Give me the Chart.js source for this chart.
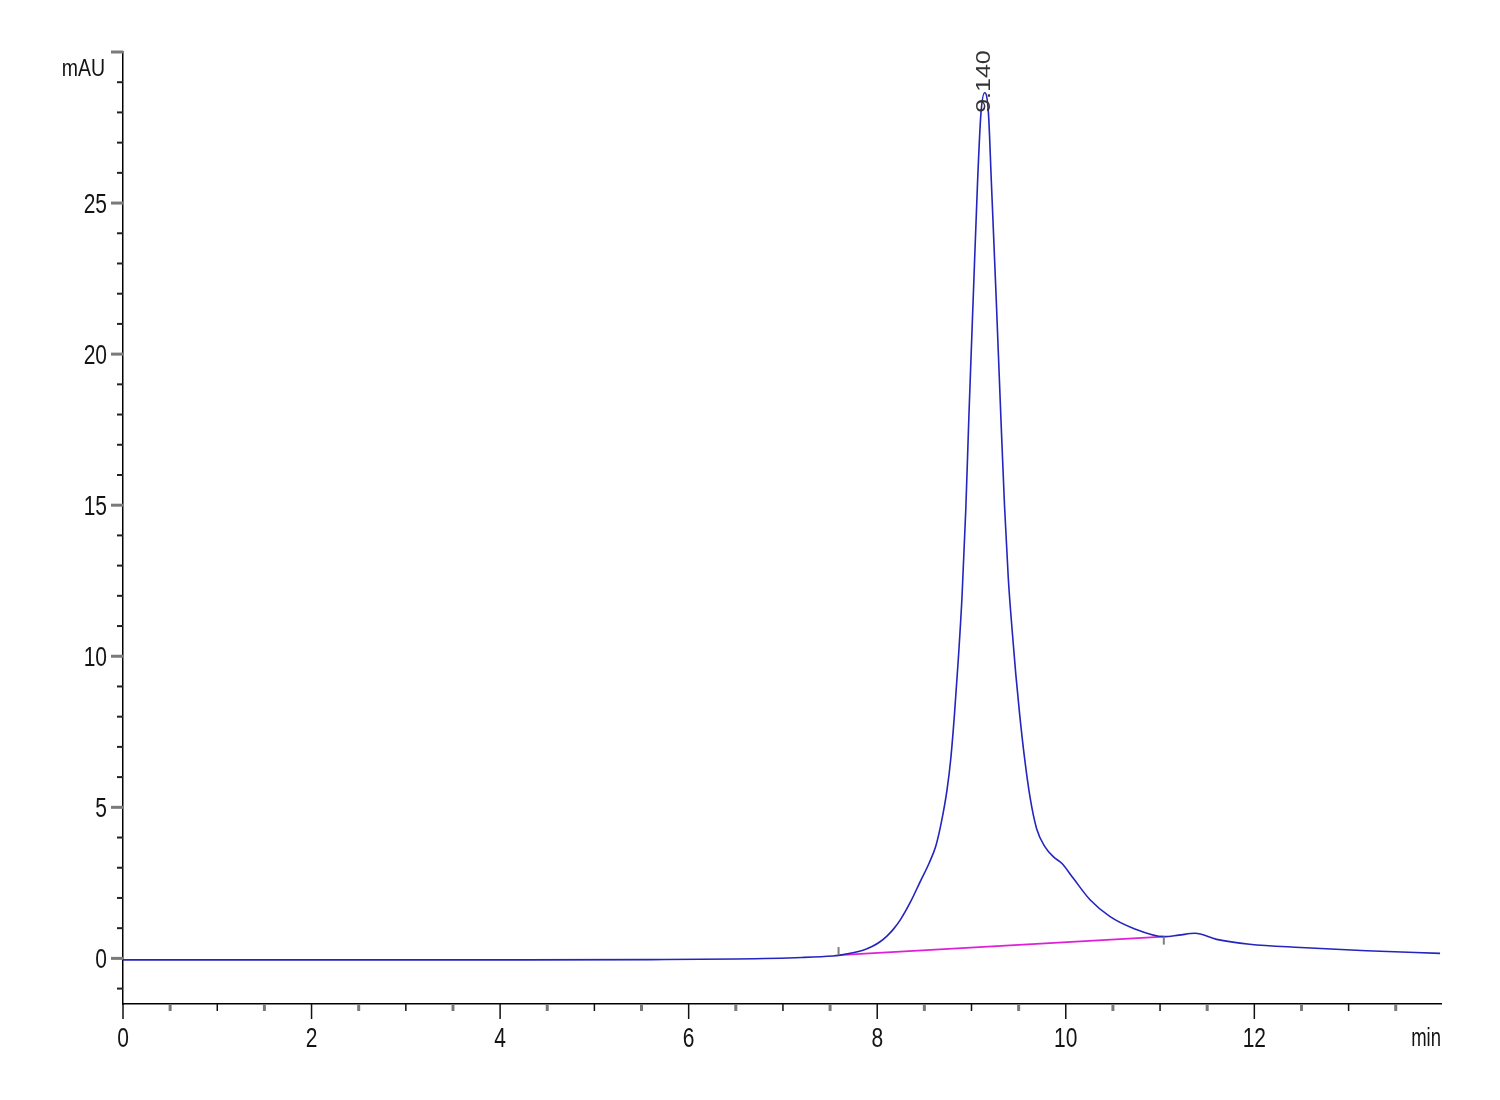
<!DOCTYPE html>
<html lang="en">
<head>
<meta charset="UTF-8" />
<title>Chromatogram</title>
<style>
  html, body {
    margin: 0;
    padding: 0;
    background: #fff;
  }
  canvas {
    display: block;
  }
</style>
</head>
<body>

<canvas id="chroma" width="1500" height="1100"></canvas>

<script src="https://cdn.jsdelivr.net/npm/chart.js"></script>
<script>
// retention time (min) and detector signal (mAU)
const retentionTimes = [0, 2, 4, 5.6, 6.5, 7.2, 7.53, 7.59, 7.85, 7.95, 8.03, 8.10, 8.17, 8.25, 8.35, 8.45, 8.55, 8.62, 8.68, 8.74, 8.78, 8.82, 8.86, 8.90, 8.94, 8.973, 9.02, 9.065, 9.10, 9.14, 9.18, 9.21, 9.26, 9.31, 9.35, 9.39, 9.43, 9.47, 9.51, 9.56, 9.62, 9.69, 9.78, 9.87, 9.96, 10.08, 10.26, 10.47, 10.72, 11.04, 11.2, 11.37, 11.60, 11.95, 12.49, 13.19, 13.97];
const signal = [-0.05, -0.05, -0.05, -0.04, -0.02, 0.03, 0.08, 0.1, 0.27, 0.4, 0.55, 0.73, 0.96, 1.3, 1.85, 2.5, 3.15, 3.7, 4.5, 5.57, 6.6, 8.1, 9.9, 12.0, 14.9, 18.0, 22.0, 25.75, 27.96, 28.65, 27.96, 25.75, 22.0, 18.03, 15.0, 12.6, 10.9, 9.4, 8.1, 6.7, 5.35, 4.3, 3.69, 3.36, 3.14, 2.65, 1.93, 1.38, 0.99, 0.72, 0.77, 0.83, 0.63, 0.47, 0.36, 0.25, 0.165];

// integration baseline of the main peak
const baselineTimes = [7.59, 11.04];
const baselineValues = [0.11, 0.72];

// peak annotation
const peakTime = 9.14;
const peakValue = 28.65;
const peakLabel = '9.140';

const xMin = 0, xMax = 13.98;
const yMin = -1.51, yMax = 30;
const yLabelMax = 25;

const textFont = '"Liberation Sans", Arial, sans-serif';

const trace = retentionTimes.map((t, i) => ({x: t, y: signal[i]}));
const baseline = baselineTimes.map((t, i) => ({x: t, y: baselineValues[i]}));

// the original printout is stretched vertically, so text gets a y scale
function stretchedText(ctx, text, x, y, size, sy, align) {
    ctx.save();
    ctx.translate(x, y);
    ctx.scale(1, sy);
    ctx.font = size + 'px ' + textFont;
    ctx.textAlign = align;
    ctx.textBaseline = 'alphabetic';
    ctx.fillText(text, 0, 0.358 * size);
    ctx.restore();
}

// tick marks, tick labels, unit labels, baseline end marks and peak label
const extrasPlugin = {
    id: 'extras',
    afterDraw(chart) {
        const ctx = chart.ctx;
        const xs = chart.scales.x;
        const ys = chart.scales.y;
        const area = chart.chartArea;
        ctx.save();

        // y ticks
        ys.ticks.forEach(t => {
            const py = ys.getPixelForValue(t.value);
            const major = Math.abs(t.value % 5) < 1e-6;
            ctx.beginPath();
            ctx.strokeStyle = major ? '#7a7a7a' : '#222';
            ctx.lineWidth = major ? 3 : 2;
            ctx.moveTo(area.left - (major ? 12 : 6), py);
            ctx.lineTo(area.left, py);
            ctx.stroke();
            if (major && t.value <= yLabelMax) {
                ctx.fillStyle = '#141414';
                stretchedText(ctx, String(t.value), area.left - 16, py, 21, 1.34, 'right');
            }
        });

        // x ticks
        xs.ticks.forEach(t => {
            const px = xs.getPixelForValue(t.value);
            const major = Math.abs(t.value % 2) < 1e-6;
            const whole = Math.abs(t.value % 1) < 1e-6;
            ctx.beginPath();
            ctx.strokeStyle = whole ? '#111' : '#7a7a7a';
            ctx.lineWidth = whole ? 1.5 : 3;
            ctx.moveTo(px, area.bottom);
            ctx.lineTo(px, area.bottom + (major ? 15 : 7));
            ctx.stroke();
            if (major) {
                ctx.fillStyle = '#141414';
                stretchedText(ctx, String(t.value), px, area.bottom + 33, 21, 1.3, 'center');
            }
        });

        // baseline start/end marks
        ctx.strokeStyle = '#808080';
        ctx.lineWidth = 2;
        const b0x = xs.getPixelForValue(baselineTimes[0]);
        const b0y = ys.getPixelForValue(baselineValues[0]);
        ctx.beginPath();
        ctx.moveTo(b0x, b0y);
        ctx.lineTo(b0x, b0y - 8);
        ctx.stroke();
        const b1x = xs.getPixelForValue(baselineTimes[1]);
        const b1y = ys.getPixelForValue(baselineValues[1]);
        ctx.beginPath();
        ctx.moveTo(b1x, b1y);
        ctx.lineTo(b1x, b1y + 8);
        ctx.stroke();

        // unit labels
        ctx.fillStyle = '#141414';
        stretchedText(ctx, 'mAU', area.left - 18, area.top + 16, 19.5, 1.2, 'right');
        stretchedText(ctx, 'min', area.right, area.bottom + 33, 18.5, 1.35, 'right');

        // peak retention time label, rotated
        const px = xs.getPixelForValue(peakTime);
        const py = ys.getPixelForValue(peakValue);
        ctx.translate(px, py + 20);
        ctx.rotate(-Math.PI / 2);
        ctx.scale(1.25, 1);
        ctx.font = '20px ' + textFont;
        ctx.fillStyle = '#333';
        ctx.textAlign = 'left';
        ctx.textBaseline = 'middle';
        ctx.fillText(peakLabel, 0, 0);
        ctx.restore();
    }
};

new Chart(document.getElementById('chroma').getContext('2d'), {
    type: 'line',
    data: {
        datasets: [{
            label: 'Signal',
            data: trace,
            borderColor: '#2424bf',
            borderWidth: 1.6,
            pointRadius: 0,
            fill: false,
            cubicInterpolationMode: 'monotone'
        }, {
            label: 'Baseline',
            data: baseline,
            borderColor: '#e020d8',
            borderWidth: 1.8,
            pointRadius: 0,
            fill: false
        }]
    },
    options: {
        responsive: false,
        animation: false,
        layout: {padding: {left: 0, right: 59, top: 52, bottom: 0}},
        plugins: {
            legend: {display: false},
            tooltip: {enabled: false}
        },
        scales: {
            x: {
                type: 'linear',
                min: xMin,
                max: xMax,
                grid: {drawOnChartArea: false, drawTicks: false},
                border: {display: true, color: '#000', width: 1.5},
                ticks: {
                    display: false,
                    stepSize: 0.5,
                    autoSkip: false,
                    includeBounds: false
                },
                afterFit: s => { s.height = 96; }
            },
            y: {
                type: 'linear',
                min: yMin,
                max: yMax,
                grid: {drawOnChartArea: false, drawTicks: false},
                border: {display: true, color: '#000', width: 1.5},
                ticks: {
                    display: false,
                    stepSize: 1,
                    autoSkip: false,
                    includeBounds: false
                },
                afterFit: s => { s.width = 123; }
            }
        }
    },
    plugins: [extrasPlugin]
});
</script>

</body>
</html>
